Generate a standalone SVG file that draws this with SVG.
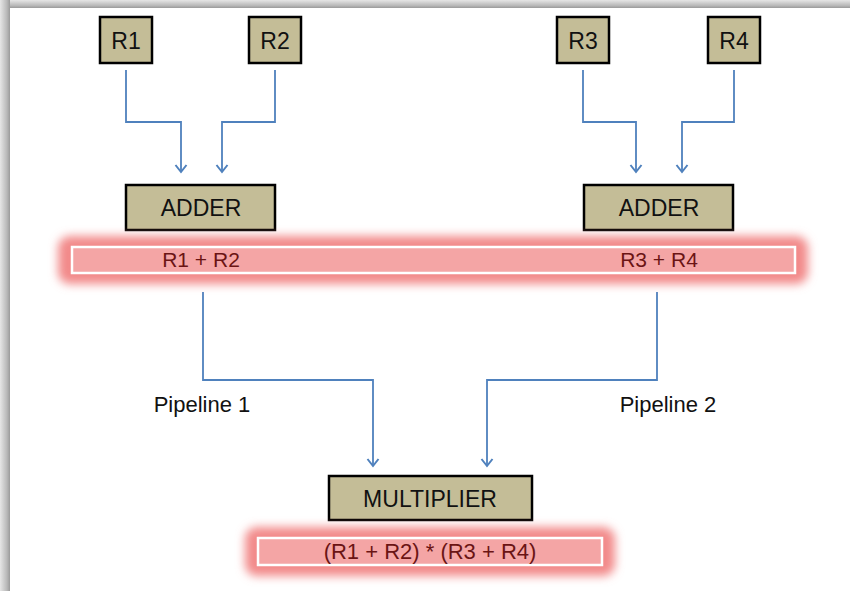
<svg xmlns="http://www.w3.org/2000/svg" width="850" height="591" viewBox="0 0 850 591">
<defs>
  <linearGradient id="gl" x1="0" y1="0" x2="1" y2="0">
    <stop offset="0" stop-color="#e6e6e6"/>
    <stop offset="0.7" stop-color="#b8b8b8"/>
    <stop offset="1" stop-color="#9a9a9a"/>
  </linearGradient>
  <linearGradient id="gt" x1="0" y1="0" x2="0" y2="1">
    <stop offset="0" stop-color="#e6e6e6"/>
    <stop offset="0.7" stop-color="#b8b8b8"/>
    <stop offset="1" stop-color="#9a9a9a"/>
  </linearGradient>
  <filter id="glow" x="-10%" y="-100%" width="120%" height="300%">
    <feGaussianBlur stdDeviation="5"/>
  </filter>
  <marker id="ah" markerWidth="14" markerHeight="14" refX="11" refY="7" orient="auto" markerUnits="userSpaceOnUse" viewBox="0 0 14 14">
    <path d="M4,1.5 L11,7 L4,12.5" fill="none" stroke="#4f81bd" stroke-width="2"/>
  </marker>
</defs>
<style>
  .box{fill:#c4bd97;stroke:#000;stroke-width:2.5}
  .t{font-family:"Liberation Sans",Arial,sans-serif;fill:#111;text-anchor:middle}
  .r{font-family:"Liberation Sans",Arial,sans-serif;fill:#6b1414;text-anchor:middle}
  .c{fill:none;stroke:#4f81bd;stroke-width:1.8;marker-end:url(#ah)}
  .band{fill:#f4a5a5;stroke:#fff;stroke-width:2.5}
  .g{fill:#f28a8a;filter:url(#glow)}
</style>
<rect width="850" height="591" fill="#fff"/>
<rect x="0" y="0" width="850" height="8" fill="url(#gt)"/>
<rect x="0" y="0" width="10" height="591" fill="url(#gl)"/>

<g id="connectors">
  <path class="c" d="M126,70 V122 H181 V172"/>
  <path class="c" d="M275,70 V122 H222 V172"/>
  <path class="c" d="M583,70 V122 H636 V172"/>
  <path class="c" d="M734,70 V122 H682 V172"/>
  <path class="c" d="M203,292 V380 H373 V466"/>
  <path class="c" d="M657,292 V380 H487 V466"/>
</g>

<g id="R1"><rect class="box" x="100" y="17" width="52" height="46"/><text class="t" x="126" y="49" font-size="23">R1</text></g>
<g id="R2"><rect class="box" x="249" y="17" width="52" height="46"/><text class="t" x="275" y="49" font-size="23">R2</text></g>
<g id="R3"><rect class="box" x="557" y="17" width="52" height="46"/><text class="t" x="583" y="49" font-size="23">R3</text></g>
<g id="R4"><rect class="box" x="708" y="17" width="52" height="46"/><text class="t" x="734" y="49" font-size="23">R4</text></g>

<g id="adder1"><rect class="box" x="126" y="185" width="149" height="45"/><text class="t" x="201" y="216" font-size="23">ADDER</text></g>
<g id="adder2"><rect class="box" x="584" y="185" width="149" height="45"/><text class="t" x="659" y="216" font-size="23">ADDER</text></g>

<g id="sums">
  <rect class="g" x="58" y="236" width="750" height="48" rx="12"/>
  <rect class="band" x="72" y="247" width="723" height="26"/>
  <text class="r" x="201" y="267" font-size="21">R1 + R2</text>
  <text class="r" x="659" y="267" font-size="21">R3 + R4</text>
</g>

<g id="pipe1"><text class="t" x="202" y="412" font-size="22">Pipeline 1</text></g>
<g id="pipe2"><text class="t" x="668" y="412" font-size="22">Pipeline 2</text></g>

<g id="multiplier"><rect class="box" x="329" y="476" width="203" height="44"/><text class="t" x="430" y="507" font-size="23">MULTIPLIER</text></g>

<g id="product">
  <rect class="g" x="245" y="527" width="370" height="49" rx="12"/>
  <rect class="band" x="258" y="538" width="344" height="27"/>
  <text class="r" x="430" y="559" font-size="22">(R1 + R2) * (R3 + R4)</text>
</g>
</svg>
